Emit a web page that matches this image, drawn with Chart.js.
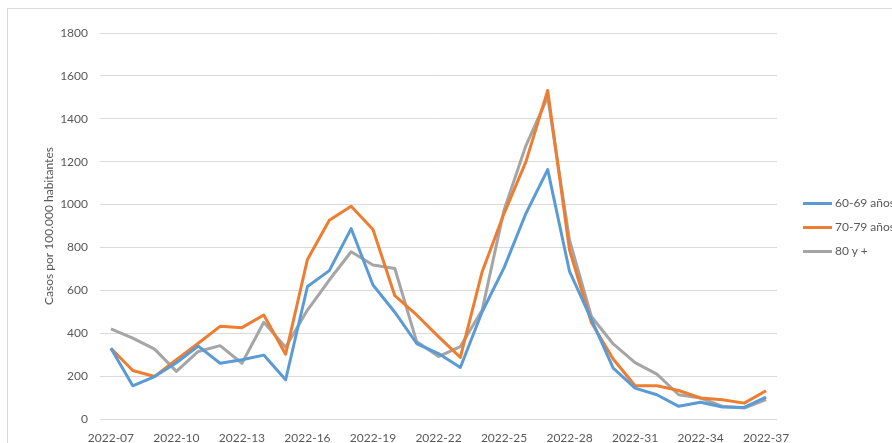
<!DOCTYPE html>
<html>
<head>
<meta charset="utf-8">
<script src="https://cdn.jsdelivr.net/npm/chart.js@4/dist/chart.umd.min.js"></script>
<style>
  body { margin: 0; background: #fff; overflow: hidden; }
  #wrap { position: relative; width: 892px; height: 443px; }
  #frame { position: absolute; left: 7px; top: 8px; width: 900px; height: 460px; border: 1px solid #d9d9d9; }
  #resultChart { position: absolute; left: 0; top: 0; }
  #legend { position: absolute; left: 803px; top: 195px; font: 12px Lato, sans-serif; color: #595959; white-space: nowrap; }
  #legend div { height: 24px; line-height: 16px; }
  #legend span.swatch { display: inline-block; width: 29px; height: 3px; vertical-align: middle; margin-right: 3px; }
</style>
</head>
<body>
<div id="wrap">
  <div id="frame"></div>
  <canvas id="resultChart" width="892" height="443"></canvas>
  <div id="legend"></div>
</div>
<script>
// 週ラベル
const weeks = ['2022-07', '2022-08', '2022-09', '2022-10', '2022-11', '2022-12', '2022-13', '2022-14',
  '2022-15', '2022-16', '2022-17', '2022-18', '2022-19', '2022-20', '2022-21', '2022-22', '2022-23',
  '2022-24', '2022-25', '2022-26', '2022-27', '2022-28', '2022-29', '2022-30', '2022-31', '2022-32',
  '2022-33', '2022-34', '2022-35', '2022-36', '2022-37'];

// 系列データ
const seriesNames = ['60-69 años', '70-79 años', '80 y +'];
const age60 = [330, 155, 198, 262, 340, 260, 276, 298, 183, 618, 692, 888, 625, 498, 352, 305,
  240, 500, 705, 958, 1163, 688, 465, 237, 144, 113, 59, 78, 56, 54, 102];
const age70 = [330, 226, 198, 276, 353, 432, 426, 485, 302, 744, 927, 992, 884, 575, 485, 384,
  287, 687, 958, 1199, 1532, 788, 450, 280, 155, 155, 133, 98, 90, 74, 132];
const age80 = [420, 377, 326, 222, 315, 342, 260, 451, 335, 508, 648, 780, 718, 702, 361, 291,
  338, 508, 974, 1274, 1502, 834, 478, 350, 263, 209, 113, 98, 59, 51, 90];
const seriesColors = ['#5b9bd5', '#ed7d31', '#a5a5a5'];

// y軸の目盛り
const yTicks = [0, 200, 400, 600, 800, 1000, 1200, 1400, 1600, 1800];
const yTitle = 'Casos por 100.000 habitantes';

const textColor = '#595959';
const font = { family: 'Lato, sans-serif', size: 12 };

function drawChart() {
  const values = [age60, age70, age80];
  const datasets = seriesNames.map((name, i) => ({
    label: name,
    data: values[i],
    borderColor: seriesColors[i],
    backgroundColor: seriesColors[i],
    borderWidth: 3,
    pointRadius: 0,
    tension: 0,
    borderJoinStyle: 'round',
  }));

  const ctx = document.getElementById('resultChart').getContext('2d');
  new Chart(ctx, {
    type: 'line',
    data: { labels: weeks, datasets: datasets },
    options: {
      responsive: false,
      animation: false,
      layout: { padding: { top: 33, right: 115, left: 0, bottom: 0 } },
      plugins: { legend: { display: false }, tooltip: { enabled: false } },
      scales: {
        x: {
          offset: true,
          grid: { display: false },
          border: { display: false },
          ticks: {
            color: textColor,
            font: font,
            autoSkip: false,
            maxRotation: 0,
            padding: 4,
            callback: (v, i) => (i % 3 === 0 ? weeks[i] : ''),
          },
          afterFit: (scale) => { scale.height = 24; },
        },
        y: {
          min: yTicks[0],
          max: yTicks[yTicks.length - 1],
          afterBuildTicks: (scale) => { scale.ticks = yTicks.map((v) => ({ value: v })); },
          grid: { color: '#d9d9d9', drawTicks: false },
          border: { display: false },
          ticks: { color: textColor, font: font, padding: 12, callback: (v) => String(v) },
          title: { display: true, text: yTitle, color: textColor, font: font, padding: { top: 42, bottom: 0 } },
          afterFit: (scale) => { scale.width = 100; },
        },
      },
    },
  });

  // 凡例
  const legend = document.getElementById('legend');
  seriesNames.forEach((name, i) => {
    const row = document.createElement('div');
    const sw = document.createElement('span');
    sw.className = 'swatch';
    sw.style.background = seriesColors[i];
    row.appendChild(sw);
    row.appendChild(document.createTextNode(name));
    legend.appendChild(row);
  });
}

window.addEventListener('DOMContentLoaded', drawChart);
</script>
</body>
</html>
